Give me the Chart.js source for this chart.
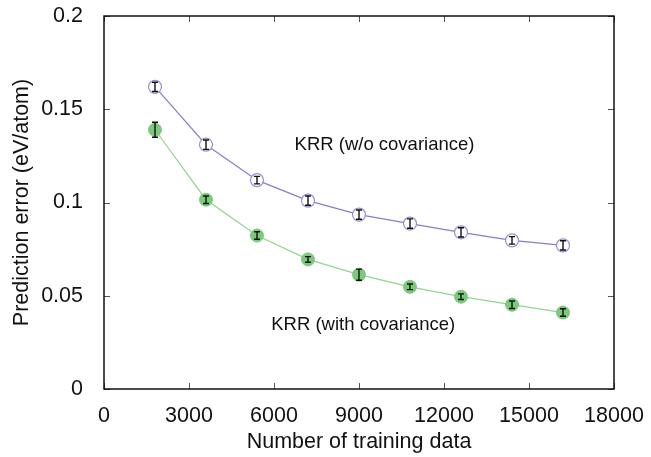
<!DOCTYPE html>
<html>
<head>
<meta charset="utf-8">
<script src="https://cdn.jsdelivr.net/npm/chart.js@4/dist/chart.umd.min.js"></script>
<style>
  html, body { margin: 0; padding: 0; background: #fff; overflow: hidden; }
</style>
</head>
<body>
<canvas id="grafico" width="651" height="457"></canvas>
<script>
// training set sizes
const nTrain = [1800, 3600, 5400, 7200, 9000, 10800, 12600, 14400, 16200];

// KRR without covariance
const erroSemCov = [0.162, 0.131, 0.112, 0.101, 0.0935, 0.0887, 0.0840, 0.0797, 0.0770];
const desvioSemCov = [0.0025, 0.0025, 0.002, 0.0025, 0.0025, 0.0025, 0.0025, 0.002, 0.0025];

// KRR with covariance
const erroComCov = [0.139, 0.1015, 0.0823, 0.0695, 0.0613, 0.0548, 0.0495, 0.0452, 0.0410];
const desvioComCov = [0.004, 0.002, 0.002, 0.0015, 0.003, 0.0015, 0.0015, 0.002, 0.002];

const xTicks = [0, 3000, 6000, 9000, 12000, 15000, 18000];
const yTicks = [0, 0.05, 0.1, 0.15, 0.2];

// text labels placed in data coordinates
const rotulos = [
    { texto: 'KRR (w/o covariance)', x: 9900, y: 0.131 },
    { texto: 'KRR (with covariance)', x: 9150, y: 0.0343 }
];

const fonte = '"Liberation Sans", Arial, Helvetica, sans-serif';

function pontos(ys, errs) {
    return nTrain.map(function(x, i) {
        return { x: x, y: ys[i], err: errs[i] };
    });
}

// frame, inward ticks, error bars and text labels
const extras = {
    id: 'extras',
    afterDatasetsDraw: function(chart) {
        const ctx = chart.ctx;
        const a = chart.chartArea;
        const sx = chart.scales.x;
        const sy = chart.scales.y;

        // error bars
        ctx.save();
        ctx.strokeStyle = '#111';
        ctx.lineWidth = 1.4;
        chart.data.datasets.forEach(function(ds) {
            ds.data.forEach(function(p) {
                const px = sx.getPixelForValue(p.x);
                const y1 = sy.getPixelForValue(p.y + p.err);
                const y2 = sy.getPixelForValue(p.y - p.err);
                ctx.beginPath();
                ctx.moveTo(px, y1); ctx.lineTo(px, y2);
                ctx.moveTo(px - 3, y1); ctx.lineTo(px + 3, y1);
                ctx.moveTo(px - 3, y2); ctx.lineTo(px + 3, y2);
                ctx.stroke();
            });
        });
        ctx.restore();

        // ticks pointing inward on all sides
        ctx.save();
        ctx.strokeStyle = '#555';
        ctx.lineWidth = 1;
        const t = 6;
        xTicks.forEach(function(v) {
            const px = Math.round(sx.getPixelForValue(v)) + 0.5;
            ctx.beginPath();
            ctx.moveTo(px, a.bottom); ctx.lineTo(px, a.bottom - t);
            ctx.moveTo(px, a.top); ctx.lineTo(px, a.top + t);
            ctx.stroke();
        });
        yTicks.forEach(function(v) {
            const py = Math.round(sy.getPixelForValue(v)) + 0.5;
            ctx.beginPath();
            ctx.moveTo(a.left, py); ctx.lineTo(a.left + t, py);
            ctx.moveTo(a.right, py); ctx.lineTo(a.right - t, py);
            ctx.stroke();
        });
        // frame
        ctx.strokeStyle = '#111';
        ctx.lineWidth = 1.5;
        ctx.strokeRect(a.left, a.top, a.right - a.left, a.bottom - a.top);
        ctx.restore();

        // labels
        ctx.save();
        ctx.fillStyle = '#111';
        ctx.font = '18.5px ' + fonte;
        ctx.textAlign = 'center';
        ctx.textBaseline = 'middle';
        rotulos.forEach(function(r) {
            ctx.fillText(r.texto, sx.getPixelForValue(r.x), sy.getPixelForValue(r.y));
        });
        ctx.restore();
    }
};

const ctx = document.getElementById('grafico').getContext('2d');
const grafico = new Chart(ctx, {
    type: 'line',
    data: {
        datasets: [{
            label: 'KRR (w/o covariance)',
            data: pontos(erroSemCov, desvioSemCov),
            borderColor: '#8a7dcc',
            borderWidth: 1.2,
            backgroundColor: '#ffffff',
            pointBackgroundColor: '#ffffff',
            pointBorderColor: '#9a8ed6',
            pointBorderWidth: 1.2,
            pointRadius: 6.5,
            tension: 0
        }, {
            label: 'KRR (with covariance)',
            data: pontos(erroComCov, desvioComCov),
            borderColor: '#8fd68f',
            borderWidth: 1.2,
            backgroundColor: '#7cc87c',
            pointBackgroundColor: '#7cc87c',
            pointBorderColor: '#7cc87c',
            pointBorderWidth: 1,
            pointRadius: 6.5,
            tension: 0
        }]
    },
    options: {
        responsive: false,
        animation: false,
        devicePixelRatio: 1,
        layout: { padding: { top: 16, right: 37, left: 0, bottom: 0 } },
        plugins: {
            legend: { display: false },
            tooltip: { enabled: false }
        },
        scales: {
            x: {
                type: 'linear',
                min: 0,
                max: 18000,
                afterBuildTicks: function(s) { s.ticks = xTicks.map(function(v) { return { value: v }; }); },
                afterFit: function(s) { s.height = 68; s.paddingLeft = 0; s.paddingRight = 0; },
                grid: { display: false },
                border: { display: false },
                ticks: {
                    padding: 6,
                    color: '#111',
                    font: { family: fonte, size: 21.5 },
                    maxRotation: 0,
                    callback: function(v) { return String(v); }
                },
                title: {
                    display: true,
                    text: 'Number of training data',
                    color: '#111',
                    font: { family: fonte, size: 21.5 },
                    padding: { top: 0, bottom: 2 }
                }
            },
            y: {
                min: 0,
                max: 0.2,
                afterBuildTicks: function(s) { s.ticks = yTicks.map(function(v) { return { value: v }; }); },
                afterFit: function(s) { s.width = 104; s.paddingTop = 0; s.paddingBottom = 0; },
                grid: { display: false },
                border: { display: false },
                ticks: {
                    padding: 13,
                    color: '#111',
                    font: { family: fonte, size: 21.5 },
                    callback: function(v) { return String(v); }
                },
                title: {
                    display: true,
                    text: 'Prediction error (eV/atom)',
                    color: '#111',
                    font: { family: fonte, size: 21.5 },
                    padding: { top: 9, bottom: 0 }
                }
            }
        }
    },
    plugins: [extras]
});
</script>
</body>
</html>
